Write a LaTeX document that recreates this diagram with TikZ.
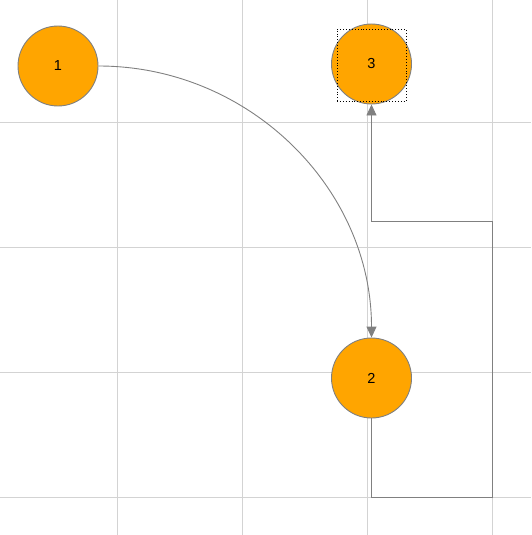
\documentclass[tikz,border=0pt]{standalone}
\usepackage{fontspec}
\setmainfont{Liberation Sans}
\usetikzlibrary{arrows.meta}
\definecolor{nodefill}{HTML}{FFA500}
\definecolor{linegray}{HTML}{808080}
\definecolor{gridgray}{HTML}{D3D3D3}
\tikzset{
    state/.style={circle, draw=linegray, fill=nodefill, line width=0.9pt, minimum size=80pt, inner sep=0pt, font=\fontsize{14.5}{16}\selectfont},
    link/.style={draw=linegray, line width=0.9pt, -{Triangle[width=10pt,length=11pt]}},
    selbox/.style={draw=black, dotted, line width=0.9pt, minimum width=69pt, minimum height=72pt, inner sep=0pt}
}
\begin{document}
\begin{tikzpicture}[x=1pt, y=-1pt]
                \useasboundingbox (0, 0) rectangle (531, 535);
                % grid
                \foreach \gx in {117, 242, 367, 492}
                    \draw[gridgray, line width=0.8pt] (\gx, 0) -- (\gx, 535);
                \foreach \gy in {122, 247, 372, 497}
                    \draw[gridgray, line width=0.8pt] (0, \gy) -- (531, \gy);
                \node[state] (one) at (58, 66) {1};
                \node[state] (three) at (371.5, 64) {3};
                \node[state] (two) at (371.5, 378) {2};
                \node[selbox] (sel) at (371.5, 65) {};
                \coordinate (bl) at (371.5, 497);
                \coordinate (br) at (492, 497);
                \coordinate (tr) at (492, 221);
                \coordinate (tl) at (371.5, 221);
                \draw[link] (one.east) .. controls +(151, 0) and +(0, -149) .. (two.north);
                \draw[link] (two.south) -- (bl) -- (br) -- (tr) -- (tl) -- (three.south);
            \end{tikzpicture}
\end{document}
